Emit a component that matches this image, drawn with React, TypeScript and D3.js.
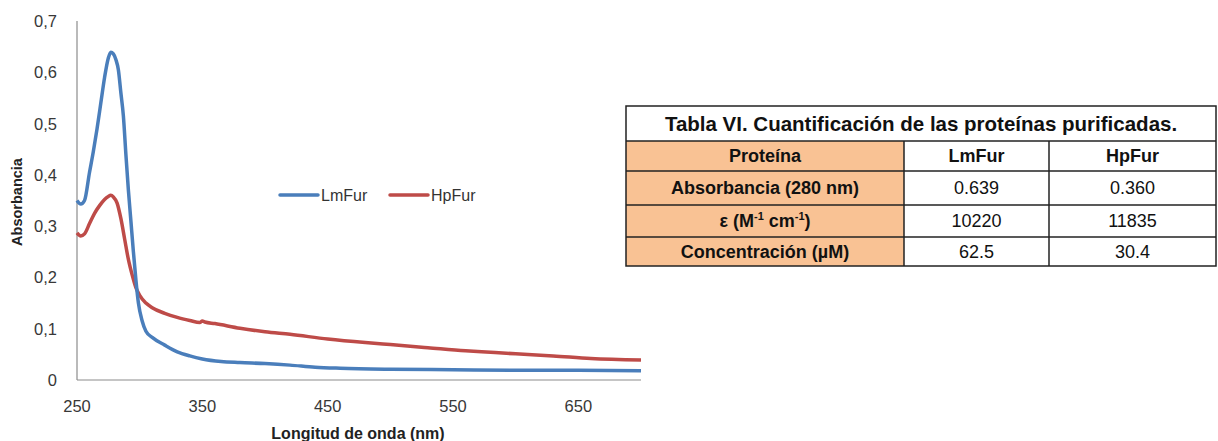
import React from "react";
import * as d3 from "d3";

const lmWl = [250, 253, 256, 260, 263, 266, 269, 272, 275, 277, 279, 281, 283, 285, 287, 289, 291, 293, 295, 297, 299, 302, 305, 310, 320, 330, 340, 350, 365, 380, 400, 420, 440, 460, 500, 550, 600, 650, 700];
const lmAbs = [0.35, 0.343, 0.35, 0.405, 0.445, 0.49, 0.54, 0.59, 0.628, 0.639, 0.636, 0.625, 0.605, 0.56, 0.515, 0.44, 0.37, 0.31, 0.25, 0.195, 0.15, 0.115, 0.095, 0.083, 0.068, 0.055, 0.047, 0.041, 0.036, 0.034, 0.032, 0.029, 0.025, 0.023, 0.021, 0.02, 0.019, 0.019, 0.018];

const hpWl = [250, 253, 256, 260, 264, 268, 272, 275, 277, 279, 282, 285, 288, 291, 294, 297, 300, 305, 310, 320, 330, 340, 348, 350, 352, 360, 380, 400, 420, 450, 480, 500, 530, 560, 580, 600, 630, 660, 700];
const hpAbs = [0.287, 0.281, 0.285, 0.305, 0.325, 0.34, 0.352, 0.358, 0.36, 0.357, 0.345, 0.315, 0.275, 0.235, 0.205, 0.18, 0.165, 0.15, 0.141, 0.13, 0.122, 0.116, 0.112, 0.115, 0.113, 0.11, 0.101, 0.094, 0.089, 0.08, 0.073, 0.069, 0.063, 0.057, 0.054, 0.051, 0.047, 0.042, 0.039];

const xTicks = [250, 350, 450, 550, 650];
const yTicks = [0, 0.1, 0.2, 0.3, 0.4, 0.5, 0.6, 0.7];

const seriesNames = ["LmFur", "HpFur"];
const seriesColors = ["#4a7ebb", "#be4b48"];

const tableTitle = "Tabla VI. Cuantificación de las proteínas purificadas.";
const tableHeader = ["Proteína", "LmFur", "HpFur"];
const rowLabels = ["Absorbancia (280 nm)", "ε (M-1 cm-1)", "Concentración (µM)"];
const lmValues = ["0.639", "10220", "62.5"];
const hpValues = ["0.360", "11835", "30.4"];

export default function App() {
  const W = 1218, H = 441;
  const x = d3.scaleLinear().domain([250, 700]).range([77, 641]);
  const y = d3.scaleLinear().domain([0, 0.7]).range([380, 21]);
  const line = d3
    .line<[number, number]>()
    .x((d) => x(d[0]))
    .y((d) => y(d[1]))
    .curve(d3.curveMonotoneX);
  const lmPath = line(lmWl.map((w, i) => [w, lmAbs[i]] as [number, number])) || "";
  const hpPath = line(hpWl.map((w, i) => [w, hpAbs[i]] as [number, number])) || "";
  const fmt = (v: number) => (v === 0 ? "0" : d3.format(".1f")(v).replace(".", ","));

  const font = "'Liberation Sans', Arial, sans-serif";
  const tickColor = "#383838";

  // table geometry
  const tL = 626, tR = 1216;
  const colX = [626, 904, 1049, 1216];
  const rowY = [106, 141, 171, 205, 237, 266];
  const orange = "#f9c294";
  const cellFs = 18;

  const cellText = (label: string, cx: number, cy: number, bold: boolean, key: string) => {
    if (label.startsWith("ε")) {
      return (
        <text key={key} x={cx} y={cy} textAnchor="middle" fontWeight="bold" fontSize={cellFs} fill="#111" fontFamily={font}>
          ε (M<tspan dy={-7} fontSize={11}>-1</tspan>
          <tspan dy={7}> cm</tspan>
          <tspan dy={-7} fontSize={11}>-1</tspan>
          <tspan dy={7}>)</tspan>
        </text>
      );
    }
    return (
      <text key={key} x={cx} y={cy} textAnchor="middle" fontWeight={bold ? "bold" : "normal"} fontSize={cellFs} fill="#111" fontFamily={font}>
        {label}
      </text>
    );
  };

  return (
    <svg width={W} height={H} style={{ position: "absolute", left: 0, top: 0, background: "#fff" }} fontFamily={font}>
      {/* axes */}
      <line x1={77} y1={y(0.7)} x2={77} y2={380} stroke="#8c8c8c" strokeWidth={1.2} />
      <line x1={77} y1={380} x2={641} y2={380} stroke="#8c8c8c" strokeWidth={1.2} />
      {yTicks.map((t) => (
        <text key={"y" + t} x={57} y={y(t) + 6} textAnchor="end" fontSize={16.5} fill={tickColor}>
          {fmt(t)}
        </text>
      ))}
      {xTicks.map((t) => (
        <text key={"x" + t} x={x(t)} y={412} textAnchor="middle" fontSize={16.5} fill={tickColor}>
          {t}
        </text>
      ))}
      <text x={358} y={439} textAnchor="middle" fontSize={16} fontWeight="bold" fill="#222">
        Longitud de onda (nm)
      </text>
      <text transform="translate(22,202) rotate(-90)" textAnchor="middle" fontSize={14.5} fontWeight="bold" fill="#222">
        Absorbancia
      </text>

      {/* series */}
      <path d={hpPath} fill="none" stroke={seriesColors[1]} strokeWidth={3.5} strokeLinejoin="round" />
      <path d={lmPath} fill="none" stroke={seriesColors[0]} strokeWidth={3.5} strokeLinejoin="round" />

      {/* legend */}
      {seriesNames.map((n, i) => {
        const lx = 280 + i * 110;
        return (
          <g key={n}>
            <line x1={lx} x2={lx + 38} y1={195} y2={195} stroke={seriesColors[i]} strokeWidth={3.5} strokeLinecap="round" />
            <text x={lx + 41} y={201} fontSize={16} fill="#333">
              {n}
            </text>
          </g>
        );
      })}

      {/* table */}
      <rect x={colX[0]} y={rowY[1]} width={colX[1] - colX[0]} height={rowY[5] - rowY[1]} fill={orange} />
      <rect x={tL} y={rowY[0]} width={tR - tL} height={rowY[5] - rowY[0]} fill="none" stroke="#222" strokeWidth={1.5} />
      {rowY.slice(1, 5).map((ry, i) => (
        <line key={"r" + i} x1={tL} x2={tR} y1={ry} y2={ry} stroke="#222" strokeWidth={1.5} />
      ))}
      {colX.slice(1, 3).map((cx, i) => (
        <line key={"c" + i} x1={cx} x2={cx} y1={rowY[1]} y2={rowY[5]} stroke="#222" strokeWidth={1.5} />
      ))}
      <text x={(tL + tR) / 2} y={131} textAnchor="middle" fontSize={20.5} fontWeight="bold" fill="#111">
        {tableTitle}
      </text>
      {tableHeader.map((h, i) => cellText(h, (colX[i] + colX[i + 1]) / 2, (rowY[1] + rowY[2]) / 2 + 6, true, "h" + i))}
      {rowLabels.map((lab, r) => {
        const cy = (rowY[r + 2] + rowY[r + 3]) / 2 + 6;
        return (
          <g key={"row" + r}>
            {cellText(lab, (colX[0] + colX[1]) / 2, cy, true, "l" + r)}
            {cellText(lmValues[r], (colX[1] + colX[2]) / 2, cy, false, "a" + r)}
            {cellText(hpValues[r], (colX[2] + colX[3]) / 2, cy, false, "b" + r)}
          </g>
        );
      })}
    </svg>
  );
}
